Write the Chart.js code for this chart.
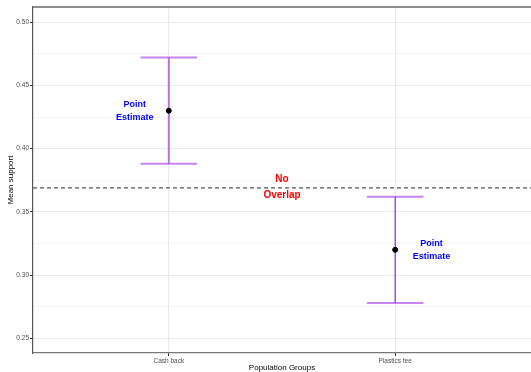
<!DOCTYPE html>
<html>
<head>
<meta charset="utf-8">
<script src="https://cdn.jsdelivr.net/npm/chart.js@4.4.1/dist/chart.umd.min.js"></script>
<style>
  html, body { margin: 0; padding: 0; background: #fff; }
  #wrap { width: 531px; height: 372px; position: relative; }
</style>
</head>
<body>
<div id="wrap"><canvas id="c" width="531" height="372"></canvas></div>
<script>
const categories = ["Cash back", "Plastics fee"];
const means = [0.430, 0.320];
const lowerCI = [0.388, 0.278];
const upperCI = [0.472, 0.362];
const thresholdValue = 0.369;
const yTickValues = [0.25, 0.275, 0.30, 0.325, 0.35, 0.375, 0.40, 0.425, 0.45, 0.475, 0.50];

const FONT = "'Liberation Sans', Arial, sans-serif";

const errorBarPlugin = {
  id: 'errorBars',
  beforeDatasetsDraw(chart) {
    const { ctx, chartArea: a, scales: { x, y } } = chart;
    ctx.save();
    // top panel border
    ctx.strokeStyle = '#8c8c8c';
    ctx.lineWidth = 2;
    ctx.beginPath();
    ctx.moveTo(a.left, a.top);
    ctx.lineTo(a.right, a.top);
    ctx.stroke();
    // dashed threshold line
    const ty = y.getPixelForValue(thresholdValue);
    ctx.strokeStyle = '#555555';
    ctx.lineWidth = 1.2;
    ctx.setLineDash([4, 3]);
    ctx.beginPath();
    ctx.moveTo(a.left, ty);
    ctx.lineTo(a.right, ty);
    ctx.stroke();
    ctx.setLineDash([]);
    // error bars
    categories.forEach((c, i) => {
      const px = x.getPixelForValue(i + 1);
      const x0 = x.getPixelForValue(i + 1 - 0.125);
      const x1 = x.getPixelForValue(i + 1 + 0.125);
      const yl = y.getPixelForValue(lowerCI[i]);
      const yu = y.getPixelForValue(upperCI[i]);
      ctx.strokeStyle = 'rgba(180, 90, 235, 0.75)';
      ctx.lineWidth = 2;
      ctx.beginPath();
      ctx.moveTo(x0, yu); ctx.lineTo(x1, yu);
      ctx.moveTo(x0, yl); ctx.lineTo(x1, yl);
      ctx.stroke();
      ctx.strokeStyle = i === 0 ? 'rgba(170, 80, 230, 0.8)' : '#8a2be2';
      ctx.lineWidth = i === 0 ? 2 : 1.2;
      ctx.beginPath();
      ctx.moveTo(px, yu); ctx.lineTo(px, yl);
      ctx.stroke();
    });
    ctx.restore();
  },
  afterDatasetsDraw(chart) {
    const { ctx, scales: { x, y } } = chart;
    ctx.save();
    ctx.textAlign = 'center';
    ctx.textBaseline = 'middle';
    ctx.fillStyle = '#0000FF';
    ctx.font = 'bold 9px ' + FONT;
    const labels = [[0.85, means[0]], [2.16, means[1]]];
    labels.forEach(([vx, vy]) => {
      const px = x.getPixelForValue(vx), py = y.getPixelForValue(vy);
      ctx.fillText('Point', px, py - 6.6);
      ctx.fillText('Estimate', px, py + 6.8);
    });
    ctx.fillStyle = '#FF0000';
    ctx.font = 'bold 10px ' + FONT;
    const nx = x.getPixelForValue(1.5), ny = y.getPixelForValue(thresholdValue);
    ctx.fillText('No', nx, ny - 8.5);
    ctx.fillText('Overlap', nx, ny + 7);
    ctx.restore();
  }
};

new Chart(document.getElementById('c'), {
  type: 'scatter',
  data: {
    datasets: [{
      data: categories.map((c, i) => ({ x: i + 1, y: means[i] })),
      backgroundColor: '#000',
      borderColor: '#000',
      pointRadius: 2.5,
      pointHoverRadius: 2.5
    }]
  },
  options: {
    responsive: false,
    animation: false,
    events: [],
    layout: { autoPadding: false, padding: { top: 7, right: 0, left: 0, bottom: 0 } },
    plugins: { legend: { display: false }, tooltip: { enabled: false } },
    scales: {
      x: {
        type: 'linear',
        min: 0.4, max: 2.6,
        afterBuildTicks: s => { s.ticks = categories.map((c, i) => ({ value: i + 1 })); },
        afterFit: s => { s.height = 19; s.paddingLeft = 0; s.paddingRight = 0; },
        ticks: {
          callback: v => categories[Math.round(v) - 1],
          font: { family: FONT, size: 6.5 },
          color: '#4D4D4D',
          padding: 1,
          maxRotation: 0,
          autoSkip: false
        },
        grid: { color: '#EBEBEB', lineWidth: 1, tickLength: 3, tickColor: '#333333' },
        border: { display: true, color: '#777777', width: 1.2 },
        title: {
          display: true, text: 'Population Groups',
          font: { family: FONT, size: 8 }, color: '#000', padding: { top: 0, bottom: -1 }
        }
      },
      y: {
        min: 0.2384, max: 0.512,
        afterBuildTicks: s => { s.ticks = yTickValues.map(v => ({ value: v })); },
        afterFit: s => { s.width = 33; },
        ticks: {
          callback: (v, i) => (i % 2 === 0 ? v.toFixed(2) : ''),
          font: { family: FONT, size: 6.5 },
          color: '#4D4D4D',
          padding: 1,
          autoSkip: false
        },
        grid: {
          color: '#EBEBEB',
          lineWidth: ctx => (ctx.index % 2 === 0 ? 1 : 0.6),
          tickLength: 3,
          tickColor: ctx => (ctx.index % 2 === 0 ? '#333333' : 'rgba(0,0,0,0)')
        },
        border: { display: true, color: '#555555', width: 1.2 },
        title: {
          display: true, text: 'Mean support',
          font: { family: FONT, size: 8 }, color: '#000', padding: { top: 5.5, bottom: 0 }
        }
      }
    }
  },
  plugins: [errorBarPlugin]
});
</script>
</body>
</html>
